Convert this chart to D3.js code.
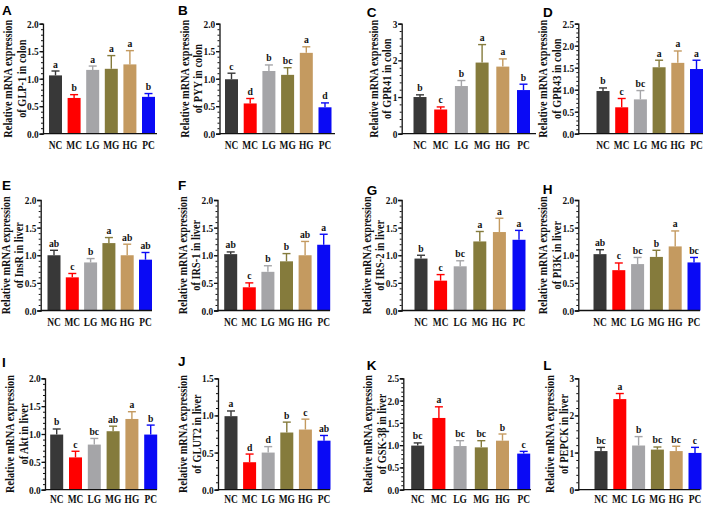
<!DOCTYPE html>
<html><head><meta charset="utf-8">
<script src="https://cdn.jsdelivr.net/npm/d3@7"></script>
<style>
html,body{margin:0;padding:0;background:#fff;}
svg{display:block;}
</style></head>
<body>
<svg id="chart" width="708" height="506"></svg>
<script>
// ---------- data ----------
const groups = ["NC", "MC", "LG", "MG", "HG", "PC"];

const glp1Mean = [1.06, 0.65, 1.16, 1.18, 1.26, 0.67];
const glp1Err  = [0.08, 0.06, 0.07, 0.24, 0.25, 0.06];
const glp1Sig  = ["a", "b", "a", "a", "a", "b"];

const pyyMean = [0.99, 0.55, 1.14, 1.07, 1.47, 0.48];
const pyyErr  = [0.11, 0.09, 0.11, 0.13, 0.11, 0.08];
const pyySig  = ["c", "d", "b", "bc", "a", "d"];

const gpr41Mean = [1.00, 0.66, 1.30, 1.94, 1.83, 1.19];
const gpr41Err  = [0.06, 0.07, 0.15, 0.49, 0.21, 0.16];
const gpr41Sig  = ["b", "c", "b", "a", "a", "b"];

const gpr43Mean = [0.97, 0.60, 0.78, 1.51, 1.61, 1.47];
const gpr43Err  = [0.07, 0.20, 0.20, 0.16, 0.27, 0.20];
const gpr43Sig  = ["b", "c", "bc", "a", "a", "a"];

const insrMean = [1.00, 0.60, 0.87, 1.22, 1.00, 0.92];
const insrErr  = [0.09, 0.07, 0.07, 0.10, 0.20, 0.13];
const insrSig  = ["ab", "c", "b", "a", "ab", "ab"];

const irs1Mean = [1.02, 0.42, 0.70, 0.89, 1.00, 1.19];
const irs1Err  = [0.04, 0.08, 0.11, 0.14, 0.25, 0.19];
const irs1Sig  = ["ab", "c", "b", "b", "ab", "a"];

const irs2Mean = [0.94, 0.54, 0.80, 1.25, 1.42, 1.28];
const irs2Err  = [0.06, 0.11, 0.10, 0.18, 0.25, 0.17];
const irs2Sig  = ["b", "c", "bc", "a", "a", "a"];

const pi3kMean = [1.02, 0.73, 0.84, 0.97, 1.16, 0.87];
const pi3kErr  = [0.08, 0.13, 0.12, 0.12, 0.28, 0.09];
const pi3kSig  = ["ab", "c", "bc", "b", "a", "bc"];

const aktMean = [0.99, 0.58, 0.81, 1.05, 1.27, 0.99];
const aktErr  = [0.10, 0.11, 0.11, 0.09, 0.13, 0.17];
const aktSig  = ["b", "c", "bc", "ab", "a", "b"];

const glut2Mean = [0.99, 0.37, 0.50, 0.77, 0.81, 0.66];
const glut2Err  = [0.07, 0.11, 0.08, 0.14, 0.14, 0.07];
const glut2Sig  = ["a", "d", "d", "b", "c", "ab"];

const gsk3bMean = [0.99, 1.61, 0.98, 0.95, 1.10, 0.81];
const gsk3bErr  = [0.06, 0.25, 0.12, 0.15, 0.15, 0.05];
const gsk3bSig  = ["bc", "a", "bc", "bc", "b", "c"];

const pepckMean = [1.04, 2.44, 1.19, 1.08, 1.04, 0.99];
const pepckErr  = [0.10, 0.15, 0.24, 0.07, 0.13, 0.15];
const pepckSig  = ["bc", "a", "b", "bc", "bc", "c"];

const titleLine1 = "Relative mRNA expression";
const titleLine2 = ["of GLP-1 in colon", "of PYY in colon", "of GPR41 in colon", "of GPR43 in colon",
  "of InsR in liver", "of IRS-1 in liver", "of IRS-2 in liver", "of PI3K in liver",
  "of Akt in liver", "of GLUT2 in liver", "of GSK-3β in liver", "of PEPCK in liver"];
const panelLetters = ["A","B","C","D","E","F","G","H","I","J","K","L"];
const yMax   = [2, 2, 3, 2.5, 2, 2, 2, 2, 2, 1.5, 2.5, 3];
const yMajor = [0.5, 0.5, 1, 0.5, 0.5, 0.5, 0.5, 0.5, 0.5, 0.5, 0.5, 1];

// ---------- layout / style ----------
const colors = ["#383838", "#ff0000", "#a5a5a8", "#857b3c", "#c49a60", "#0a0af5"];
const series = [
  [glp1Mean, glp1Err, glp1Sig], [pyyMean, pyyErr, pyySig], [gpr41Mean, gpr41Err, gpr41Sig], [gpr43Mean, gpr43Err, gpr43Sig],
  [insrMean, insrErr, insrSig], [irs1Mean, irs1Err, irs1Sig], [irs2Mean, irs2Err, irs2Sig], [pi3kMean, pi3kErr, pi3kSig],
  [aktMean, aktErr, aktSig], [glut2Mean, glut2Err, glut2Sig], [gsk3bMean, gsk3bErr, gsk3bSig], [pepckMean, pepckErr, pepckSig]
];
// axisX, first bar centre, step, x-axis end, top, base, x-label offset, panel letter pos
const layout = [
  {ax:43,   c0:55.5,  st:18.6, xe:157, top:23.7, base:133.7, xo:7.5, lx:2,   ly:15},
  {ax:219.5,c0:231.5, st:18.7, xe:335, top:23.7, base:133.7, xo:7.5, lx:178, ly:15},
  {ax:401.7,c0:420,   st:20.7, xe:536, top:23.7, base:133.7, xo:7.5, lx:366.7,ly:16.7},
  {ax:578.3,c0:603,   st:18.7, xe:703, top:23.7, base:133.7, xo:7.5, lx:543, ly:16.7},
  {ax:40.7, c0:54,    st:18.3, xe:152, top:200,  base:310.5, xo:7.5, lx:2,   ly:190},
  {ax:217.5,c0:230.7, st:18.6, xe:330, top:200,  base:310.5, xo:7.5, lx:178, ly:190},
  {ax:401.7,c0:421,   st:19.6, xe:525, top:200,  base:310.5, xo:7.5, lx:366.7,ly:195},
  {ax:578.3,c0:600,   st:18.8, xe:700, top:200,  base:310.5, xo:7.5, lx:542.7,ly:194},
  {ax:45,   c0:56.7,  st:18.8, xe:157, top:378.3,base:489.7, xo:5,   lx:2,   ly:366.7},
  {ax:218,  c0:231,   st:18.6, xe:330, top:378.3,base:489.7, xo:5,   lx:178, ly:365.7},
  {ax:403.3,c0:417.7, st:21.2, xe:531, top:378.3,base:489.7, xo:5,   lx:366.7,ly:370},
  {ax:578.3,c0:601,   st:18.8, xe:700, top:378.3,base:489.7, xo:5,   lx:543.3,ly:370}
];
const serif = "'Liberation Serif','Times New Roman',serif";
const sans = "'Liberation Sans',Arial,sans-serif";
const barW = 13;

const svg = d3.select("#chart");

layout.forEach((L, i) => {
  const [mean, err, sig] = series[i];
  const g = svg.append("g");
  const step = L.st;
  const x = d3.scaleBand().domain(groups)
    .range([L.c0 - step / 2, L.c0 - step / 2 + 6 * step])
    .paddingInner(1 - barW / step).paddingOuter((1 - barW / step) / 2);
  const y = d3.scaleLinear().domain([0, yMax[i]]).range([L.base, L.top]);

  const majors = d3.range(0, yMax[i] + 1e-9, yMajor[i]);
  const minors = d3.range(0, yMax[i] + 1e-9, yMajor[i] / 5);
  const fmt = yMajor[i] >= 1 ? d3.format("d") : d3.format(".1f");

  // bars
  g.selectAll("rect.bar").data(groups).join("rect")
    .attr("x", d => x(d)).attr("width", x.bandwidth())
    .attr("y", (d, k) => y(mean[k])).attr("height", (d, k) => y(0) - y(mean[k]))
    .attr("fill", (d, k) => colors[k]);

  // error bars
  const cx = d => x(d) + x.bandwidth() / 2;
  g.selectAll("line.ev").data(groups).join("line")
    .attr("x1", cx).attr("x2", cx)
    .attr("y1", (d, k) => y(mean[k])).attr("y2", (d, k) => y(mean[k] + err[k]))
    .attr("stroke", (d, k) => colors[k]).attr("stroke-width", 1.4);
  g.selectAll("line.ec").data(groups).join("line")
    .attr("x1", d => cx(d) - 4).attr("x2", d => cx(d) + 4)
    .attr("y1", (d, k) => y(mean[k] + err[k])).attr("y2", (d, k) => y(mean[k] + err[k]))
    .attr("stroke", (d, k) => colors[k]).attr("stroke-width", 1.4);

  // significance letters
  g.selectAll("text.sig").data(groups).join("text")
    .attr("transform", (d, k) => `translate(${cx(d)},${y(mean[k] + err[k]) - 3.5}) scale(0.88,1)`)
    .attr("text-anchor", "middle")
    .attr("font-family", serif).attr("font-weight", "bold").attr("font-size", 11)
    .attr("fill", "#111")
    .text((d, k) => sig[k]);

  // y axis
  const yAx = g.append("g").attr("transform", `translate(${L.ax},0)`)
    .call(d3.axisLeft(y).tickValues(majors).tickFormat(fmt).tickSize(3.5).tickPadding(1.5));
  yAx.select(".domain").attr("stroke", "#111").attr("stroke-width", 1.3);
  yAx.selectAll(".tick line").attr("stroke", "#111").attr("stroke-width", 1.3);
  yAx.selectAll(".tick text").attr("font-family", serif).attr("font-weight", "bold")
    .attr("font-size", 11).attr("fill", "#111").attr("transform", "scale(0.85,1)");
  const yMin = g.append("g").attr("transform", `translate(${L.ax},0)`)
    .call(d3.axisLeft(y).tickValues(minors).tickFormat("").tickSize(2).tickSizeOuter(0));
  yMin.select(".domain").remove();
  yMin.selectAll(".tick line").attr("stroke", "#111").attr("stroke-width", 1);

  // x axis
  g.append("line").attr("x1", L.ax).attr("x2", L.xe)
    .attr("y1", y(0)).attr("y2", y(0)).attr("stroke", "#111").attr("stroke-width", 1.3);
  const xAx = g.append("g").attr("transform", `translate(0,${y(0)})`)
    .call(d3.axisBottom(x).tickSize(0).tickPadding(L.xo));
  xAx.select(".domain").remove();
  xAx.selectAll(".tick text").attr("font-family", serif).attr("font-weight", "bold")
    .attr("font-size", 11.5).attr("fill", "#111").attr("transform", "scale(0.82,1)");

  // y title, placed left of the measured tick labels
  const bb = yAx.node().getBBox();
  const t2 = L.ax + bb.x - 5.5;
  const t1 = t2 - 13.5;
  const midY = (L.top + L.base) / 2;
  [[t1, titleLine1], [t2, titleLine2[i]]].forEach(([tx, s]) => {
    g.append("text")
      .attr("transform", `translate(${tx},${midY}) rotate(-90) scale(0.86,1)`)
      .attr("text-anchor", "middle").attr("dy", "0.33em")
      .attr("font-family", serif).attr("font-weight", "bold").attr("font-size", 12)
      .attr("fill", "#111").text(s);
  });

  // panel letter
  g.append("text").attr("x", L.lx).attr("y", L.ly)
    .attr("font-family", sans).attr("font-weight", "bold").attr("font-size", 13.5)
    .attr("fill", "#000").text(panelLetters[i]);
});
</script>
</body></html>
